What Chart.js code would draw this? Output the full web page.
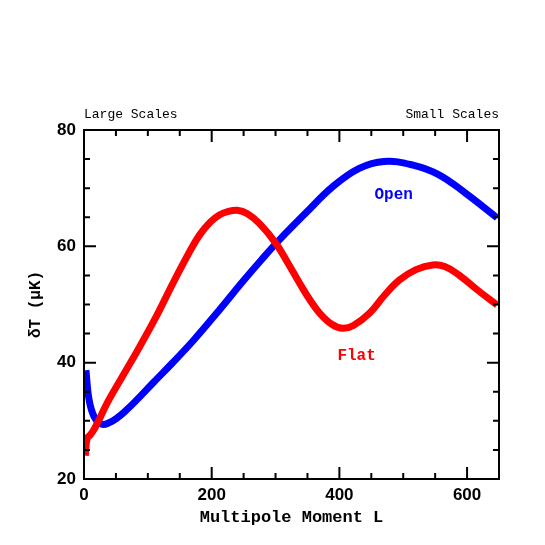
<!DOCTYPE html>
<html>
<head>
<meta charset="utf-8">
<script src="https://cdn.jsdelivr.net/npm/chart.js@4/dist/chart.umd.min.js"></script>
<style>
  html, body { margin: 0; padding: 0; background: #fff; }
  #wrap { width: 545px; height: 545px; }
</style>
</head>
<body>
<div id="wrap"><canvas id="cmb"></canvas></div>
<script>
// multipole moment L and dT values
const flatL = [2, 5, 10, 14, 21, 36, 59, 87, 113, 139, 166, 182, 198, 212, 225, 240, 256, 275, 300, 320, 338, 355, 370, 388, 405, 422, 447, 470, 494, 520, 546, 566, 587, 615, 647];
const flatT = [24.0, 27.0, 27.6, 28.2, 29.6, 33.0, 37.4, 42.7, 47.9, 53.6, 59.2, 62.1, 64.2, 65.4, 65.95, 66.2, 65.6, 63.9, 60.6, 57.0, 53.6, 50.6, 48.4, 46.6, 45.9, 46.4, 48.5, 51.5, 54.2, 56.0, 56.8, 56.5, 55.1, 52.6, 49.9];
const openL = [3, 8, 16, 28, 40, 52, 65, 80, 108, 138, 172, 207, 249, 278, 306, 348, 389, 431, 470, 514, 556, 598, 647];
const openT = [38.7, 33.6, 30.7, 29.4, 29.7, 30.5, 31.7, 33.3, 36.5, 39.9, 43.9, 48.4, 54.0, 57.7, 61.1, 65.8, 70.2, 73.4, 74.6, 74.0, 72.3, 69.1, 64.9];
const xTicks = [0, 200, 400, 600];
const yTicks = [20, 40, 60, 80];

const toPts = (xs, ys) => xs.map((x, i) => ({x: x, y: ys[i]}));

const frameAndLabels = {
    id: 'frameAndLabels',
    afterDraw(chart) {
        const ctx = chart.ctx;
        const a = chart.chartArea;
        const xs = chart.scales.x, ys = chart.scales.y;
        ctx.save();
        ctx.strokeStyle = '#000';
        ctx.lineWidth = 2;
        ctx.strokeRect(a.left, a.top, a.right - a.left, a.bottom - a.top);
        // inside ticks on all four sides
        ctx.beginPath();
        for (let v = 0; v <= 650; v += 50) {
            const px = xs.getPixelForValue(v);
            const len = v % 200 === 0 ? 12 : 6;
            ctx.moveTo(px, a.bottom); ctx.lineTo(px, a.bottom - len);
            ctx.moveTo(px, a.top); ctx.lineTo(px, a.top + len);
        }
        for (let v = 20; v <= 80; v += 5) {
            const py = ys.getPixelForValue(v);
            const len = v % 20 === 0 ? 12 : 6;
            ctx.moveTo(a.left, py); ctx.lineTo(a.left + len, py);
            ctx.moveTo(a.right, py); ctx.lineTo(a.right - len, py);
        }
        ctx.stroke();

        ctx.fillStyle = '#000';
        ctx.font = '13px "Liberation Mono"';
        ctx.textBaseline = 'bottom';
        ctx.textAlign = 'left';
        ctx.fillText('Large Scales', a.left, a.top - 9);
        ctx.textAlign = 'right';
        ctx.fillText('Small Scales', a.right, a.top - 9);

        ctx.font = 'bold 16px "Liberation Mono"';
        ctx.textAlign = 'center';
        ctx.textBaseline = 'middle';
        ctx.fillStyle = 'blue';
        ctx.fillText('Open', xs.getPixelForValue(485), ys.getPixelForValue(68.8));
        ctx.fillStyle = 'red';
        ctx.fillText('Flat', xs.getPixelForValue(427), ys.getPixelForValue(41.2));
        ctx.restore();
    }
};

new Chart(document.getElementById('cmb'), {
    type: 'line',
    data: {
        datasets: [
            {
                label: 'Flat',
                data: toPts(flatL, flatT),
                borderColor: 'red',
                borderWidth: 7,
                pointRadius: 0,
                tension: 0.4,
                fill: false,
            },
            {
                label: 'Open',
                data: toPts(openL, openT),
                borderColor: 'blue',
                borderWidth: 7,
                pointRadius: 0,
                tension: 0.4,
                fill: false,
            },
        ],
    },
    options: {
        responsive: true,
        maintainAspectRatio: false,
        animation: false,
        clip: 0,
        layout: { padding: { top: 130, right: 46, left: 0, bottom: 0 } },
        plugins: {
            legend: { display: false },
            tooltip: { enabled: false },
        },
        scales: {
            x: {
                type: 'linear',
                min: 0,
                max: 650,
                afterBuildTicks: s => { s.ticks = xTicks.map(v => ({value: v})); },
                afterFit: s => { s.height = 66; },
                grid: { display: false },
                border: { display: false },
                ticks: {
                    color: '#000',
                    padding: -2,
                    font: { family: 'Liberation Sans', weight: 'bold', size: 17 },
                },
                title: {
                    display: true,
                    text: 'Multipole Moment L',
                    color: '#000',
                    padding: { top: 0, bottom: 17 },
                    font: { family: 'Liberation Mono', weight: 'bold', size: 17 },
                },
            },
            y: {
                min: 20,
                max: 80,
                afterBuildTicks: s => { s.ticks = yTicks.map(v => ({value: v})); },
                afterFit: s => { s.width = 84; },
                grid: { display: false },
                border: { display: false },
                ticks: {
                    color: '#000',
                    padding: 0,
                    font: { family: 'Liberation Sans', weight: 'bold', size: 17 },
                },
                title: {
                    display: true,
                    text: 'δT (μK)',
                    color: '#000',
                    padding: { top: 26, bottom: 0 },
                    font: { family: 'Liberation Mono', weight: 'bold', size: 16 },
                },
            },
        },
    },
    plugins: [frameAndLabels],
});
</script>
</body>
</html>
